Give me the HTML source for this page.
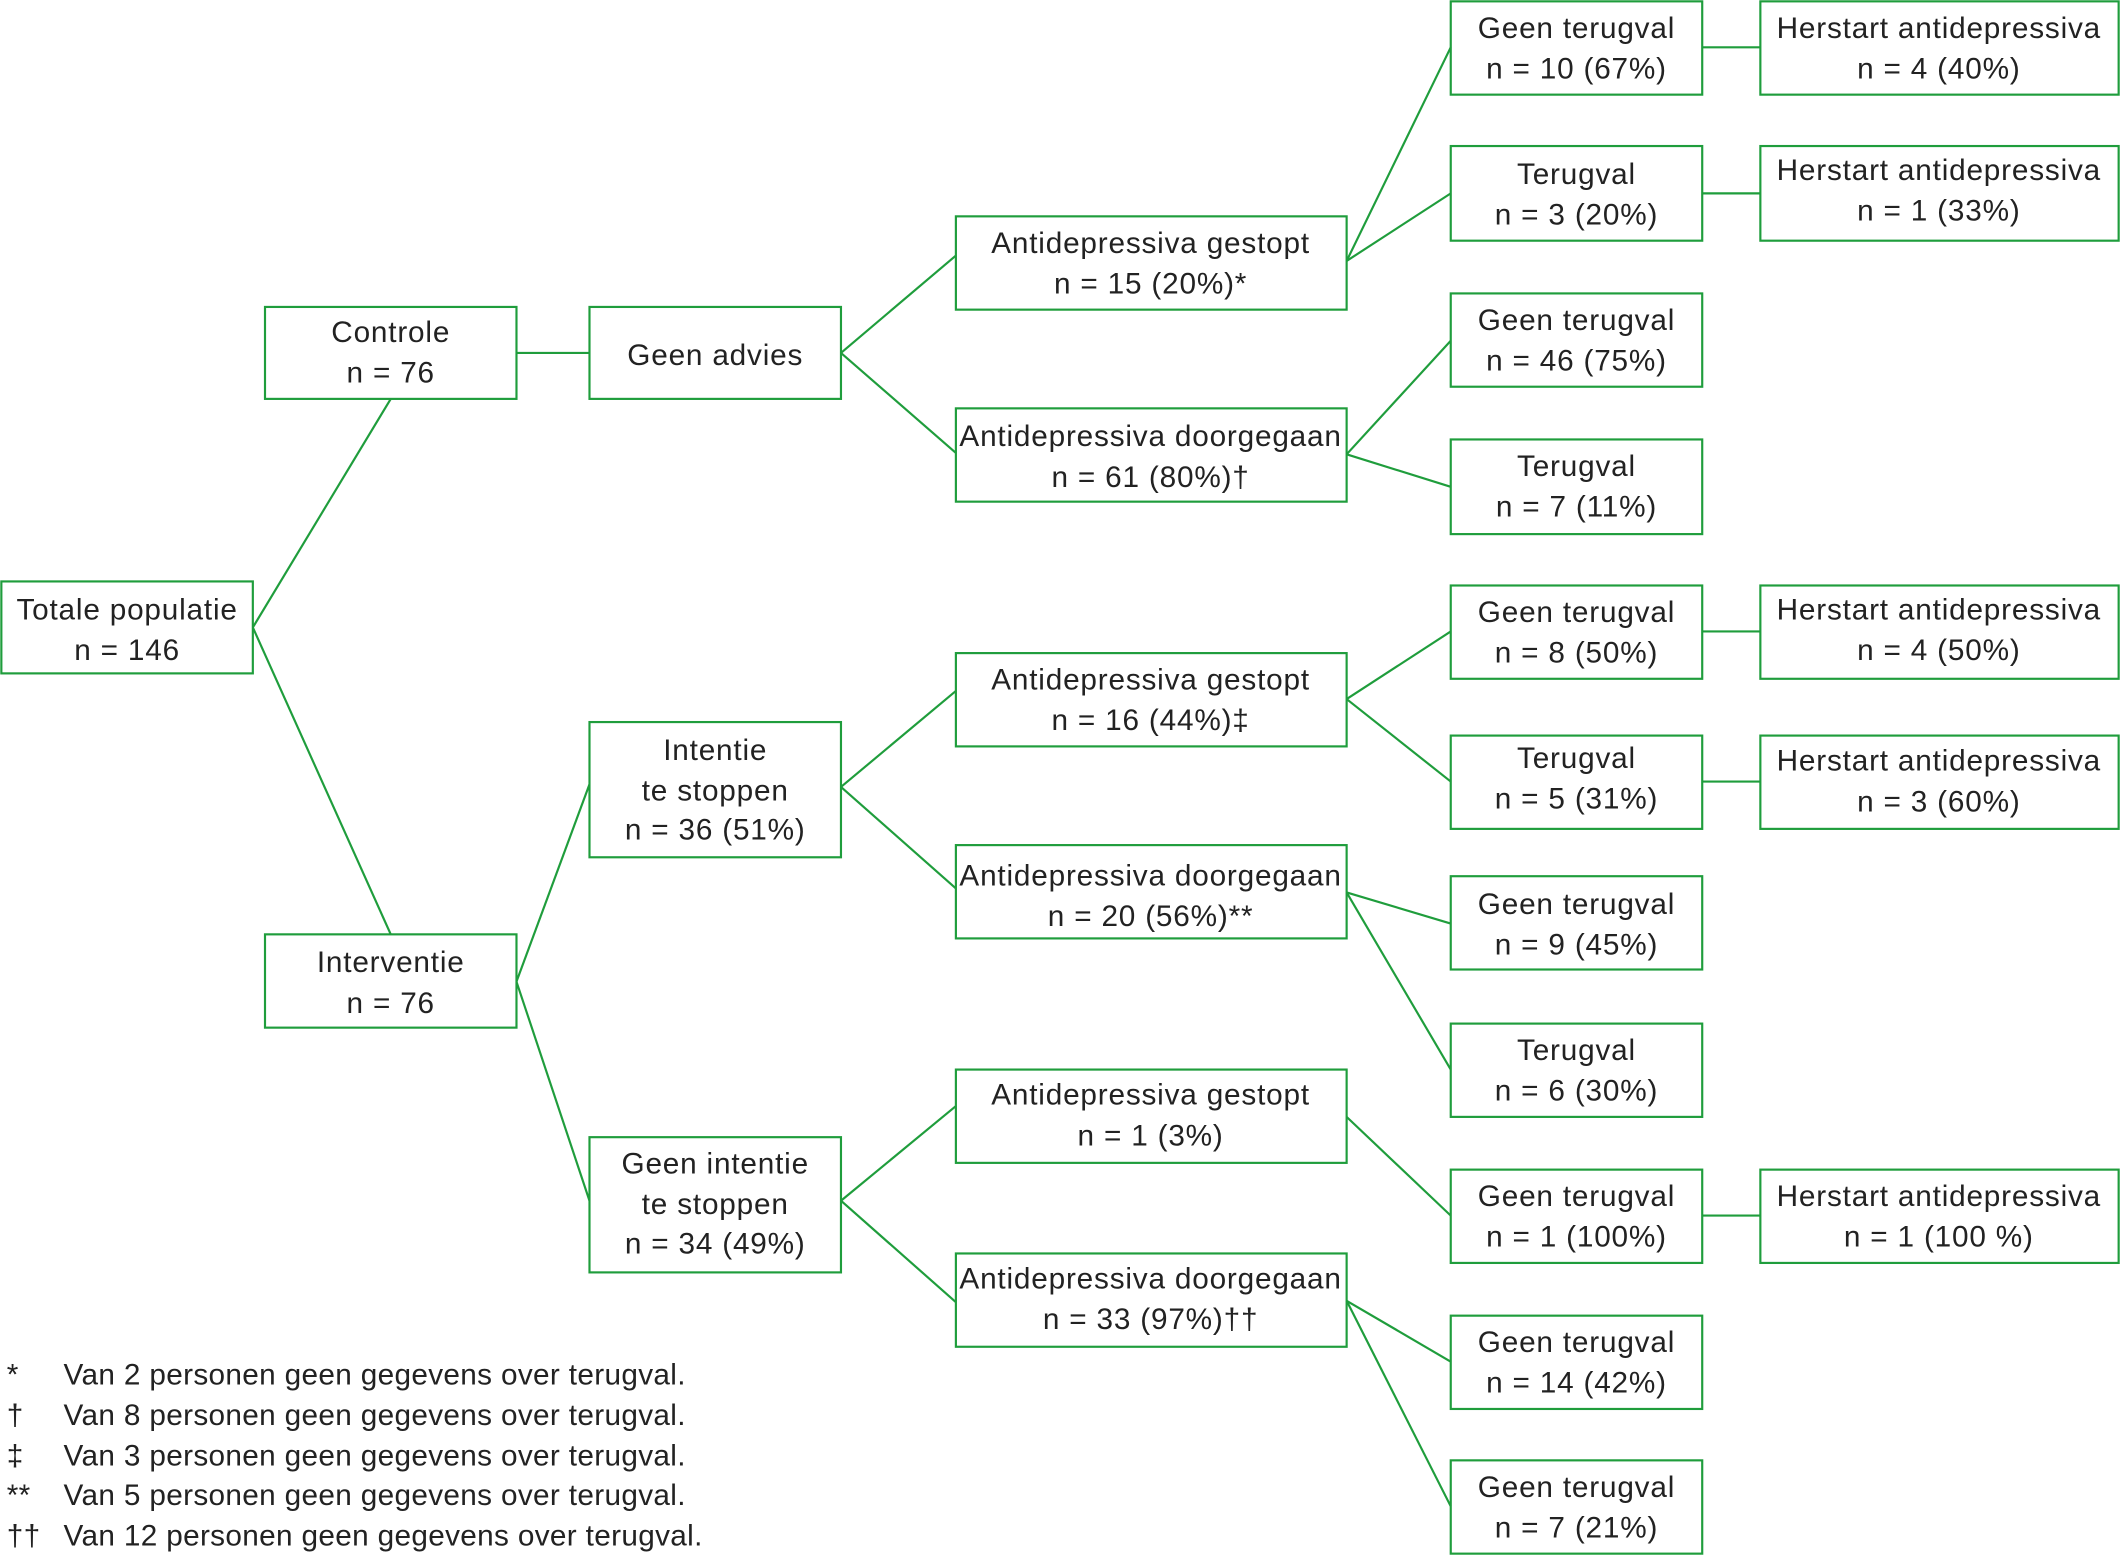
<!DOCTYPE html>
<html><head><meta charset="utf-8"><style>
html,body{margin:0;padding:0;background:#fff;}
svg{display:block;}
text{font-family:"Liberation Sans",sans-serif;font-size:22px;letter-spacing:0.6px;fill:#222;}
.fn text{letter-spacing:0.25px;}
</style></head><body>
<svg width="2120" height="1555" viewBox="0 0 1568 1150" preserveAspectRatio="none" xmlns="http://www.w3.org/2000/svg">
<g stroke="#1f9d3c" stroke-width="1.6" fill="none">
<line x1="187" y1="464" x2="289" y2="295"/>
<line x1="187" y1="464" x2="289" y2="691"/>
<line x1="382" y1="261" x2="436" y2="261"/>
<line x1="622" y1="261" x2="707" y2="189"/>
<line x1="622" y1="261" x2="707" y2="335"/>
<line x1="382" y1="726" x2="436" y2="580"/>
<line x1="382" y1="726" x2="436" y2="888"/>
<line x1="622" y1="582" x2="707" y2="511"/>
<line x1="622" y1="582" x2="707" y2="657"/>
<line x1="622" y1="888" x2="707" y2="818"/>
<line x1="622" y1="888" x2="707" y2="963"/>
<line x1="996" y1="193" x2="1073" y2="35"/>
<line x1="996" y1="193" x2="1073" y2="143"/>
<line x1="996" y1="336" x2="1073" y2="252"/>
<line x1="996" y1="336" x2="1073" y2="360"/>
<line x1="996" y1="517" x2="1073" y2="467"/>
<line x1="996" y1="517" x2="1073" y2="578"/>
<line x1="996" y1="660" x2="1073" y2="683"/>
<line x1="996" y1="660" x2="1073" y2="791"/>
<line x1="996" y1="826" x2="1073" y2="899"/>
<line x1="996" y1="962" x2="1073" y2="1007"/>
<line x1="996" y1="962" x2="1073" y2="1114"/>
<line x1="1259" y1="35" x2="1302" y2="35"/>
<line x1="1259" y1="143" x2="1302" y2="143"/>
<line x1="1259" y1="467" x2="1302" y2="467"/>
<line x1="1259" y1="578" x2="1302" y2="578"/>
<line x1="1259" y1="899" x2="1302" y2="899"/>
<rect x="1" y="430" width="186" height="68"/>
<rect x="196" y="227" width="186" height="68"/>
<rect x="196" y="691" width="186" height="69"/>
<rect x="436" y="227" width="186" height="68"/>
<rect x="436" y="534" width="186" height="100"/>
<rect x="436" y="841" width="186" height="100"/>
<rect x="707" y="160" width="289" height="69"/>
<rect x="707" y="302" width="289" height="69"/>
<rect x="707" y="483" width="289" height="69"/>
<rect x="707" y="625" width="289" height="69"/>
<rect x="707" y="791" width="289" height="69"/>
<rect x="707" y="927" width="289" height="69"/>
<rect x="1073" y="1" width="186" height="69"/>
<rect x="1073" y="108" width="186" height="70"/>
<rect x="1073" y="217" width="186" height="69"/>
<rect x="1073" y="325" width="186" height="70"/>
<rect x="1073" y="433" width="186" height="69"/>
<rect x="1073" y="544" width="186" height="69"/>
<rect x="1073" y="648" width="186" height="69"/>
<rect x="1073" y="757" width="186" height="69"/>
<rect x="1073" y="865" width="186" height="69"/>
<rect x="1073" y="973" width="186" height="69"/>
<rect x="1073" y="1080" width="186" height="69"/>
<rect x="1302" y="1" width="265" height="69"/>
<rect x="1302" y="108" width="265" height="70"/>
<rect x="1302" y="433" width="265" height="69"/>
<rect x="1302" y="544" width="265" height="69"/>
<rect x="1302" y="865" width="265" height="69"/>
</g>
<g text-anchor="middle">
<text x="94" y="458">Totale populatie</text><text x="94" y="488">n = 146</text>
<text x="289" y="253">Controle</text><text x="289" y="283">n = 76</text>
<text x="289" y="719">Interventie</text><text x="289" y="749">n = 76</text>
<text x="529" y="270">Geen advies</text>
<text x="529" y="562">Intentie</text><text x="529" y="592">te stoppen</text><text x="529" y="621">n = 36 (51%)</text>
<text x="529" y="868">Geen intentie</text><text x="529" y="898">te stoppen</text><text x="529" y="927">n = 34 (49%)</text>
<text x="851" y="187">Antidepressiva gestopt</text><text x="851" y="217">n = 15 (20%)*</text>
<text x="851" y="330">Antidepressiva doorgegaan</text><text x="851" y="360">n = 61 (80%)†</text>
<text x="851" y="510">Antidepressiva gestopt</text><text x="851" y="540">n = 16 (44%)‡</text>
<text x="851" y="655">Antidepressiva doorgegaan</text><text x="851" y="685">n = 20 (56%)**</text>
<text x="851" y="817">Antidepressiva gestopt</text><text x="851" y="847">n = 1 (3%)</text>
<text x="851" y="953">Antidepressiva doorgegaan</text><text x="851" y="983">n = 33 (97%)††</text>
<text x="1166" y="28">Geen terugval</text><text x="1166" y="58">n = 10 (67%)</text>
<text x="1166" y="136">Terugval</text><text x="1166" y="166">n = 3 (20%)</text>
<text x="1166" y="244">Geen terugval</text><text x="1166" y="274">n = 46 (75%)</text>
<text x="1166" y="352">Terugval</text><text x="1166" y="382">n = 7 (11%)</text>
<text x="1166" y="460">Geen terugval</text><text x="1166" y="490">n = 8 (50%)</text>
<text x="1166" y="568">Terugval</text><text x="1166" y="598">n = 5 (31%)</text>
<text x="1166" y="676">Geen terugval</text><text x="1166" y="706">n = 9 (45%)</text>
<text x="1166" y="784">Terugval</text><text x="1166" y="814">n = 6 (30%)</text>
<text x="1166" y="892">Geen terugval</text><text x="1166" y="922">n = 1 (100%)</text>
<text x="1166" y="1000">Geen terugval</text><text x="1166" y="1030">n = 14 (42%)</text>
<text x="1166" y="1107">Geen terugval</text><text x="1166" y="1137">n = 7 (21%)</text>
<text x="1434" y="28">Herstart antidepressiva</text><text x="1434" y="58">n = 4 (40%)</text>
<text x="1434" y="133">Herstart antidepressiva</text><text x="1434" y="163">n = 1 (33%)</text>
<text x="1434" y="458">Herstart antidepressiva</text><text x="1434" y="488">n = 4 (50%)</text>
<text x="1434" y="570">Herstart antidepressiva</text><text x="1434" y="600">n = 3 (60%)</text>
<text x="1434" y="892">Herstart antidepressiva</text><text x="1434" y="922">n = 1 (100 %)</text>
</g>
<g class="fn">
<text x="5" y="1024">*</text><text x="47" y="1024">Van 2 personen geen gegevens over terugval.</text>
<text x="5" y="1054">†</text><text x="47" y="1054">Van 8 personen geen gegevens over terugval.</text>
<text x="5" y="1084">‡</text><text x="47" y="1084">Van 3 personen geen gegevens over terugval.</text>
<text x="5" y="1113">**</text><text x="47" y="1113">Van 5 personen geen gegevens over terugval.</text>
<text x="5" y="1143">††</text><text x="47" y="1143">Van 12 personen geen gegevens over terugval.</text>
</g>
</svg>
</body></html>
